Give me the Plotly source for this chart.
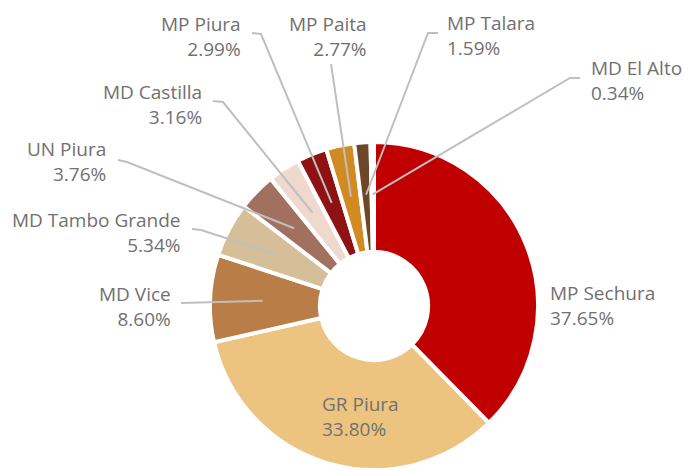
import plotly.graph_objects as go
import math

labels = ["MP Sechura", "GR Piura", "MD Vice", "MD Tambo Grande", "UN Piura",
          "MD Castilla", "MP Piura", "MP Paita", "MP Talara", "MD El Alto"]
values = [37.65, 33.80, 8.60, 5.34, 3.76, 3.16, 2.99, 2.77, 1.59, 0.34]
colors = ["#C00000", "#EDC47F", "#B97D47", "#D6BF98", "#A2705F",
          "#EFD9CF", "#8E1212", "#D28A22", "#6D4728", "#F2E2DA"]

W, H = 684, 470
dom_x = [210 / W, 538 / W]
dom_y = [0.0, 0.698]
cx = (dom_x[0] + dom_x[1]) / 2 * W
cy = H - (dom_y[0] + dom_y[1]) / 2 * H
R = min((dom_x[1] - dom_x[0]) * W, (dom_y[1] - dom_y[0]) * H) / 2

TEXT_COLOR = "#727070"
LINE_COLOR = "#BFBFBF"
FONT = "Open Sans"

# label placement (pixels): x, y-center, anchor, leader elbow points
placement = {
    "MP Sechura": (548, 305, "left", None),
    "GR Piura": (320, 416, "left", None),
    "MD Vice": (173, 306, "right", [(181, 303)]),
    "MD Tambo Grande": (183, 232, "right", [(192, 229), (201, 230)]),
    "UN Piura": (108, 162, "right", [(118, 160), (127, 162)]),
    "MD Castilla": (204, 104, "right", [(213, 101), (223, 102)]),
    "MP Piura": (243, 36, "right", [(252, 33), (261, 34)]),
    "MP Paita": (369, 36, "right", [(331, 64)]),
    "MP Talara": (445, 35, "left", [(438, 33), (428, 33)]),
    "MD El Alto": (589, 80, "left", [(580, 78), (570, 78)]),
}

def to_paper(px, py):
    return px / W, 1 - py / H

total = sum(values)
cum = 0.0
shapes = []
annotations = []
for lab, val in zip(labels, values):
    mid = (cum + val / 2) / total
    cum += val
    theta = 2 * math.pi * mid
    r_end = 0.68 * R
    ex = cx + r_end * math.sin(theta)
    ey = cy - r_end * math.cos(theta)
    tx, ty, anchor, elbow = placement[lab]
    if elbow:
        pts = elbow + [(ex, ey)]
        path = ""
        for i, (px, py) in enumerate(pts):
            X, Y = to_paper(px, py)
            path += ("M " if i == 0 else " L ") + f"{X:.5f},{Y:.5f}"
        shapes.append(dict(type="path", path=path, xref="paper", yref="paper",
                           line=dict(color=LINE_COLOR, width=2)))
    X, Y = to_paper(tx, ty)
    annotations.append(dict(
        x=X, y=Y, xref="paper", yref="paper", showarrow=False,
        xanchor=anchor, yanchor="middle", align=anchor,
        text=f"{lab}<br>{val:.2f}%",
        font=dict(family=FONT, size=19, color=TEXT_COLOR)))

fig = go.Figure(go.Pie(
    labels=labels, values=values, sort=False, direction="clockwise",
    rotation=0, hole=0.33, textinfo="none", hoverinfo="label+percent",
    marker=dict(colors=colors, line=dict(color="white", width=4)),
    domain=dict(x=dom_x, y=dom_y),
))

fig.update_layout(
    width=W, height=H, margin=dict(l=0, r=0, t=0, b=0),
    showlegend=False, paper_bgcolor="white", plot_bgcolor="white",
    shapes=shapes, annotations=annotations,
    font=dict(family=FONT),
)

fig.write_html(
    "out.html",
    config={"displayModeBar": False},
    post_script="document.body.style.margin='0';document.body.style.overflow='hidden';",
)
